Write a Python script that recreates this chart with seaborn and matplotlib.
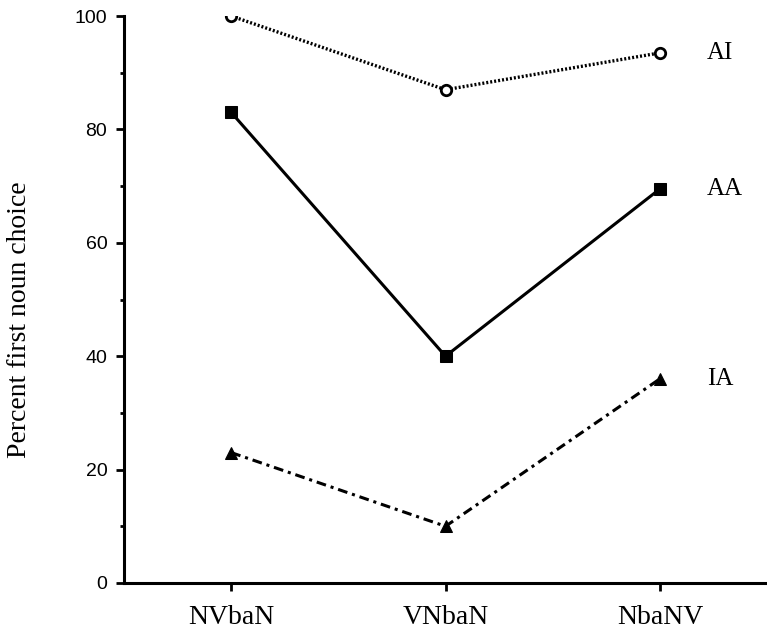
import matplotlib
matplotlib.use("Agg")
import matplotlib.pyplot as plt
from matplotlib.ticker import MultipleLocator
import seaborn as sns
import pandas as pd

# Word-order conditions and percent first-noun choice per animacy condition
orders = ["NVbaN", "VNbaN", "NbaNV"]
ai_values = [100.0, 87.0, 93.5]
aa_values = [83.0, 40.0, 69.5]
ia_values = [23.0, 10.0, 36.0]
series_names = ["AI", "AA", "IA"]

sns.set_style("ticks")
plt.rcParams["font.family"] = ["Liberation Serif", "DejaVu Serif"]
plt.rcParams["text.color"] = "black"
plt.rcParams["axes.labelcolor"] = "black"
plt.rcParams["xtick.color"] = "black"
plt.rcParams["ytick.color"] = "black"

df = pd.DataFrame({
    "order": orders * 3,
    "percent": ai_values + aa_values + ia_values,
    "series": [s for s in series_names for _ in orders],
})

fig = plt.figure(figsize=(7.67, 6.31), dpi=100)
ax = fig.add_axes([0.1617, 0.0761, 0.8383, 0.8985])

styles = {
    "AI": dict(marker="o", linestyle=(0, (0.6, 0.6)), markerfacecolor="white",
               markeredgecolor="black", markeredgewidth=2.0, markersize=7.5, linewidth=2.4),
    "AA": dict(marker="s", linestyle="-", markerfacecolor="black",
               markeredgecolor="black", markersize=8, linewidth=2.2),
    "IA": dict(marker="^", linestyle=(0, (3.2, 1.6, 1.0, 1.6)), markerfacecolor="black",
               markeredgecolor="black", markersize=9, linewidth=2.2),
}

for name in series_names:
    sub = df[df["series"] == name]
    sns.lineplot(data=sub, x="order", y="percent", ax=ax, color="black",
                 sort=False, legend=False, **styles[name])

# Series labels beside the last point of each line
for name, vals in zip(series_names, [ai_values, aa_values, ia_values]):
    ax.text(2.22, vals[-1], name, fontsize=18, va="center", ha="left",
            color="black", family=["Liberation Serif", "DejaVu Serif"])

ax.set_xlim(-0.5, 2.5)
ax.set_ylim(0, 100)
ax.yaxis.set_major_locator(MultipleLocator(20))
ax.yaxis.set_minor_locator(MultipleLocator(10))
ax.set_xticks(range(len(orders)))
ax.set_xticklabels(orders, fontsize=20, color="black")
for lbl in ax.get_yticklabels():
    lbl.set_family(["Liberation Sans", "DejaVu Sans"])
    lbl.set_fontsize(14)
    lbl.set_color("black")
ax.set_xlabel("")
ax.set_ylabel("Percent first noun choice", fontsize=20, color="black")
ax.yaxis.set_label_coords(-0.143, 0.464)

sns.despine(ax=ax)
for side in ["left", "bottom"]:
    ax.spines[side].set_linewidth(2.2)
    ax.spines[side].set_color("black")
ax.tick_params(axis="both", which="major", length=6, width=2.0, color="black",
               direction="out", pad=6)
ax.tick_params(axis="y", which="minor", length=3, width=2.0, color="black")
ax.tick_params(axis="x", which="major", pad=10)

fig.savefig("out.png", dpi=100, facecolor="white")
